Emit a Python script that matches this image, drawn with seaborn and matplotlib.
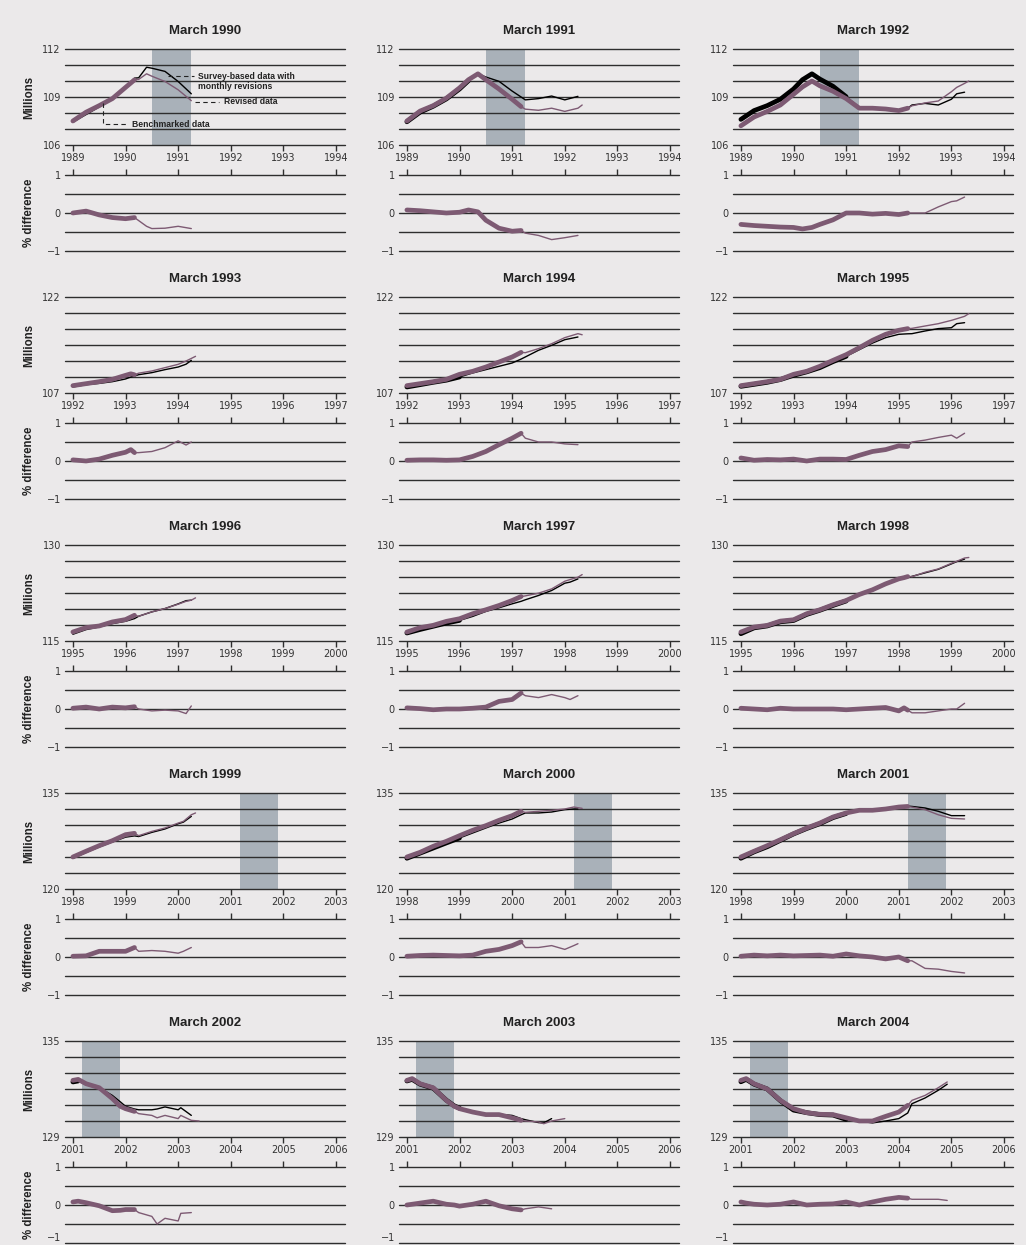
import numpy as np
import matplotlib
matplotlib.use("Agg")
import matplotlib.pyplot as plt
import seaborn as sns

# ---- data (fractional years, millions, % difference) ----
nan = np.nan

t_1990 = [1989.0, 1989.25, 1989.5, 1989.75, 1990.0, 1990.17, 1990.25, 1990.4, 1990.5, 1990.75, 1991.0, 1991.25]
survey_1990 = [107.43, 107.9, 108.38, 108.87, 109.6, 110.18, 110.2, 110.86, 110.8, 110.6, 109.97, 109.2]
revised_1990 = [107.5, 108.05, 108.46, 108.9, 109.6, 110.07, 110.1, 110.45, 110.3, 109.97, 109.45, 108.77]
diff_1990 = [0.0, 0.05, -0.05, -0.12, -0.15, -0.12, -0.2, -0.35, -0.41, -0.4, -0.35, -0.41]

t_1991 = [1989.0, 1989.25, 1989.5, 1989.75, 1990.0, 1990.17, 1990.35, 1990.5, 1990.75, 1991.0, 1991.17,
          1991.25, 1991.5, 1991.75, 1992.0, 1992.25, 1992.33]
survey_1991 = [107.45, 108.05, 108.42, 108.88, 109.5, 110.02, 110.45, 110.25, 109.98, 109.37, 109.0,
               108.82, 108.9, 109.06, 108.82, 109.04, nan]
revised_1991 = [107.5, 108.12, 108.46, 108.93, 109.57, 110.08, 110.45, 110.08, 109.5, 108.86, 108.4,
                108.24, 108.17, 108.3, 108.1, 108.3, 108.5]
diff_1991 = [0.08, 0.06, 0.03, 0.0, 0.02, 0.08, 0.03, -0.19, -0.4, -0.48, -0.46,
             -0.53, -0.59, -0.7, -0.65, -0.59, nan]

t_1992 = [1989.0, 1989.25, 1989.5, 1989.75, 1990.0, 1990.17, 1990.35, 1990.5, 1990.75, 1991.0, 1991.25,
          1991.5, 1991.75, 1992.0, 1992.17, 1992.25, 1992.5, 1992.75, 1993.0, 1993.1, 1993.25, 1993.33]
survey_1992 = [107.6, 108.15, 108.46, 108.86, 109.5, 110.08, 110.45, 110.12, 109.67, 109.02, 108.35,
               108.31, 108.25, 108.15, 108.3, 108.5, 108.6, 108.5, 108.86, 109.2, 109.3, nan]
revised_1992 = [107.2, 107.75, 108.1, 108.5, 109.17, 109.63, 110.0, 109.7, 109.36, 108.9, 108.3,
                108.3, 108.25, 108.15, 108.3, 108.45, 108.63, 108.75, 109.33, 109.6, 109.85, 110.0]
diff_1992 = [-0.3, -0.33, -0.35, -0.37, -0.38, -0.42, -0.38, -0.3, -0.18, 0.0, 0.0,
             -0.03, -0.01, -0.04, 0.0, 0.0, 0.0, 0.16, 0.3, 0.32, 0.42, nan]

t_1993 = [1992.0, 1992.25, 1992.5, 1992.75, 1993.0, 1993.1, 1993.17, 1993.25, 1993.5, 1993.75, 1994.0,
          1994.15, 1994.25, 1994.33]
survey_1993 = [107.94, 108.3, 108.5, 108.77, 109.19, 109.5, 109.66, 109.86, 110.18, 110.65, 111.06,
               111.5, 112.1, nan]
revised_1993 = [108.15, 108.46, 108.77, 109.13, 109.76, 110.0, 109.85, 110.1, 110.44, 110.96, 111.48,
                112.0, 112.4, 112.73]
diff_1993 = [0.03, 0.0, 0.05, 0.15, 0.23, 0.3, 0.22, 0.22, 0.25, 0.35, 0.53, 0.42, 0.5, nan]

t_1994 = [1992.0, 1992.25, 1992.5, 1992.75, 1993.0, 1993.25, 1993.5, 1993.75, 1994.0, 1994.17, 1994.25,
          1994.5, 1994.75, 1995.0, 1995.25, 1995.33]
survey_1994 = [107.94, 108.3, 108.67, 109.0, 109.5, 110.13, 110.65, 111.17, 111.69, 112.3, 112.63,
               113.67, 114.45, 115.33, 115.75, nan]
revised_1994 = [108.15, 108.46, 108.77, 109.13, 109.92, 110.39, 111.06, 111.84, 112.63, 113.35, 113.3,
                113.93, 114.7, 115.65, 116.27, 116.1]
diff_1994 = [0.02, 0.03, 0.03, 0.02, 0.03, 0.12, 0.25, 0.43, 0.6, 0.73, 0.6, 0.5, 0.5, 0.45, 0.43, nan]

t_1995 = [1992.0, 1992.25, 1992.5, 1992.75, 1993.0, 1993.25, 1993.5, 1993.75, 1994.0, 1994.25, 1994.5,
          1994.75, 1995.0, 1995.17, 1995.25, 1995.5, 1995.75, 1996.0, 1996.1, 1996.25, 1996.33]
survey_1995 = [108.04, 108.35, 108.67, 109.1, 109.76, 110.3, 110.96, 111.9, 112.73, 113.77, 114.8,
               115.65, 116.17, 116.25, 116.27, 116.69, 117.06, 117.2, 117.83, 117.99, nan]
revised_1995 = [108.15, 108.46, 108.77, 109.13, 109.92, 110.39, 111.17, 112.1, 112.99, 114.08, 115.23,
                116.17, 116.8, 117.06, 117.1, 117.47, 117.83, 118.35, 118.6, 118.98, 119.4]
diff_1995 = [0.08, 0.02, 0.04, 0.03, 0.05, 0.0, 0.05, 0.05, 0.04, 0.15, 0.25,
             0.3, 0.4, 0.38, 0.5, 0.55, 0.62, 0.68, 0.6, 0.73, nan]

t_1996 = [1995.0, 1995.25, 1995.5, 1995.75, 1996.0, 1996.17, 1996.25, 1996.5, 1996.75, 1997.0, 1997.15,
          1997.25, 1997.33]
survey_1996 = [116.05, 116.78, 117.2, 117.72, 118.08, 118.5, 118.87, 119.55, 120.07, 120.8, 121.3, 121.38, nan]
revised_1996 = [116.41, 117.09, 117.35, 117.98, 118.35, 119.02, 118.87, 119.55, 120.07, 120.75, 121.2,
                121.38, 121.74]
diff_1996 = [0.02, 0.05, 0.0, 0.05, 0.03, 0.06, 0.0, -0.05, -0.03, -0.05, -0.12, 0.08, nan]

t_1997 = [1995.0, 1995.25, 1995.5, 1995.75, 1996.0, 1996.25, 1996.5, 1996.75, 1997.0, 1997.17, 1997.25,
          1997.5, 1997.75, 1998.0, 1998.1, 1998.25, 1998.33]
survey_1997 = [116.25, 116.8, 117.3, 117.8, 118.22, 118.84, 119.62, 120.19, 120.81, 121.2, 121.44,
               122.11, 122.89, 124.03, 124.2, 124.7, nan]
revised_1997 = [116.4, 117.08, 117.45, 118.07, 118.48, 119.26, 119.88, 120.55, 121.33, 121.95, 122.05,
                122.47, 123.14, 124.34, 124.6, 124.97, 125.38]
diff_1997 = [0.03, 0.01, -0.02, 0.0, 0.0, 0.02, 0.05, 0.2, 0.25, 0.42, 0.35, 0.3, 0.38, 0.3, 0.25, 0.35, nan]

t_1998 = [1995.0, 1995.25, 1995.5, 1995.75, 1996.0, 1996.25, 1996.5, 1996.75, 1997.0, 1997.25, 1997.5,
          1997.75, 1998.0, 1998.1, 1998.17, 1998.25, 1998.5, 1998.75, 1999.0, 1999.1, 1999.25, 1999.33]
survey_1998 = [116.14, 117.05, 117.35, 118.0, 118.2, 119.15, 119.8, 120.55, 121.25, 122.15, 122.9,
               123.8, 124.6, 124.85, 124.95, 125.1, 125.65, 126.2, 127.05, 127.4, 127.8, nan]
revised_1998 = [116.4, 117.18, 117.44, 118.11, 118.32, 119.26, 119.88, 120.66, 121.33, 122.27, 123.0,
                123.93, 124.71, 124.9, 125.07, 125.05, 125.74, 126.26, 127.14, 127.45, 127.97, 128.05]
diff_1998 = [0.02, 0.0, -0.02, 0.02, 0.0, 0.0, 0.0, 0.0, -0.02, 0.0, 0.02,
             0.04, -0.05, 0.03, -0.03, -0.1, -0.1, -0.05, 0.0, 0.0, 0.15, nan]

t_1999 = [1998.0, 1998.25, 1998.5, 1998.75, 1999.0, 1999.17, 1999.25, 1999.5, 1999.75, 2000.0, 2000.1,
          2000.25, 2000.33]
survey_1999 = [124.8, 125.7, 126.56, 127.35, 128.1, 128.3, 128.2, 128.85, 129.38, 130.2, 130.45, 131.35, nan]
revised_1999 = [125.0, 125.9, 126.77, 127.55, 128.49, 128.7, 128.33, 129.0, 129.53, 130.3, 130.57,
                131.6, 131.88]
diff_1999 = [0.02, 0.03, 0.15, 0.15, 0.15, 0.25, 0.15, 0.17, 0.15, 0.1, 0.15, 0.25, nan]

t_2000 = [1998.0, 1998.25, 1998.5, 1998.75, 1999.0, 1999.25, 1999.5, 1999.75, 2000.0, 2000.17, 2000.25,
          2000.5, 2000.75, 2001.0, 2001.17, 2001.25, 2001.33]
survey_2000 = [124.8, 125.6, 126.4, 127.2, 127.97, 128.75, 129.53, 130.3, 130.94, 131.6, 131.88,
               131.88, 132.03, 132.4, 132.5, 132.5, nan]
revised_2000 = [125.0, 125.73, 126.67, 127.45, 128.33, 129.17, 129.9, 130.73, 131.46, 132.14, 131.98,
                132.14, 132.29, 132.5, 132.81, 132.7, 132.6]
diff_2000 = [0.02, 0.04, 0.05, 0.04, 0.03, 0.05, 0.15, 0.2, 0.3, 0.4, 0.25, 0.25, 0.3, 0.2, 0.3, 0.35, nan]

t_2001 = [1998.0, 1998.25, 1998.5, 1998.75, 1999.0, 1999.25, 1999.5, 1999.75, 2000.0, 2000.25, 2000.5,
          2000.75, 2001.0, 2001.17, 2001.25, 2001.5, 2001.75, 2002.0, 2002.25]
survey_2001 = [124.8, 125.8, 126.6, 127.6, 128.6, 129.45, 130.2, 131.15, 131.8, 132.3, 132.3,
               132.55, 132.8, 132.95, 132.9, 132.66, 132.14, 131.46, 131.46]
revised_2001 = [125.0, 125.9, 126.77, 127.7, 128.65, 129.53, 130.3, 131.25, 131.88, 132.3, 132.3,
                132.5, 132.81, 132.9, 132.8, 132.4, 131.6, 131.04, 130.94]
diff_2001 = [0.02, 0.05, 0.03, 0.05, 0.03, 0.04, 0.05, 0.02, 0.08, 0.03, 0.0,
             -0.05, 0.0, -0.1, -0.1, -0.3, -0.32, -0.38, -0.42]

t_2002 = [2001.0, 2001.1, 2001.25, 2001.5, 2001.75, 2001.9, 2002.0, 2002.17, 2002.25, 2002.5, 2002.6,
          2002.75, 2003.0, 2003.05, 2003.25, 2003.4]
survey_2002 = [132.44, 132.5, 132.29, 132.08, 131.6, 131.2, 130.92, 130.75, 130.7, 130.7, 130.75,
               130.88, 130.7, 130.83, 130.35, nan]
revised_2002 = [132.54, 132.6, 132.33, 132.08, 131.4, 130.92, 130.77, 130.6, 130.46, 130.35, 130.2,
                130.35, 130.15, 130.35, 130.04, 130.0]
diff_2002 = [0.08, 0.1, 0.06, -0.02, -0.15, -0.14, -0.12, -0.12, -0.2, -0.3, -0.5,
             -0.35, -0.42, -0.22, -0.2, nan]

t_2003 = [2001.0, 2001.1, 2001.25, 2001.5, 2001.75, 2001.9, 2002.0, 2002.25, 2002.5, 2002.75, 2003.0,
          2003.17, 2003.25, 2003.5, 2003.6, 2003.75, 2004.0]
survey_2003 = [132.5, 132.6, 132.3, 132.05, 131.3, 130.95, 130.8, 130.55, 130.4, 130.42, 130.35,
               130.15, 130.08, 129.9, 129.88, 130.15, nan]
revised_2003 = [132.54, 132.65, 132.33, 132.08, 131.29, 130.92, 130.77, 130.56, 130.4, 130.4, 130.2,
                130.04, 130.0, 129.94, 129.83, 130.0, 130.15]
diff_2003 = [0.0, 0.02, 0.05, 0.1, 0.02, 0.0, -0.03, 0.02, 0.1, -0.02, -0.1,
             -0.13, -0.1, -0.05, -0.07, -0.1, nan]

t_2004 = [2001.0, 2001.1, 2001.25, 2001.5, 2001.75, 2002.0, 2002.25, 2002.5, 2002.75, 2003.0, 2003.25,
          2003.5, 2003.75, 2004.0, 2004.17, 2004.25, 2004.5, 2004.75, 2004.92]
survey_2004 = [132.45, 132.6, 132.3, 132.0, 131.27, 130.68, 130.52, 130.4, 130.37, 130.1, 130.0,
               129.88, 130.0, 130.15, 130.5, 131.08, 131.44, 131.92, 132.3]
revised_2004 = [132.54, 132.65, 132.33, 132.0, 131.29, 130.77, 130.52, 130.42, 130.4, 130.2, 130.0,
                130.0, 130.29, 130.56, 130.98, 131.29, 131.6, 132.08, 132.44]
diff_2004 = [0.08, 0.05, 0.02, 0.0, 0.02, 0.08, 0.0, 0.02, 0.03, 0.08, 0.0,
             0.08, 0.15, 0.2, 0.18, 0.15, 0.15, 0.15, 0.12]

# recessions (shaded)
recession_start = [1990.5, 2001.17]
recession_end = [1991.25, 2001.9]

# rows of the grid: first year on the axis, y range and labelled values
row_first_year = [1989, 1992, 1995, 1998, 2001]
row_ymin = [106, 107, 115, 120, 129]
row_ymax = [112, 122, 130, 135, 135]
row_labels = [[106, 109, 112], [107, 122], [115, 130], [120, 135], [129, 135]]

panel_years = [[1990, 1991, 1992], [1993, 1994, 1995], [1996, 1997, 1998],
               [1999, 2000, 2001], [2002, 2003, 2004]]

panels = {
    1990: (t_1990, survey_1990, revised_1990, diff_1990),
    1991: (t_1991, survey_1991, revised_1991, diff_1991),
    1992: (t_1992, survey_1992, revised_1992, diff_1992),
    1993: (t_1993, survey_1993, revised_1993, diff_1993),
    1994: (t_1994, survey_1994, revised_1994, diff_1994),
    1995: (t_1995, survey_1995, revised_1995, diff_1995),
    1996: (t_1996, survey_1996, revised_1996, diff_1996),
    1997: (t_1997, survey_1997, revised_1997, diff_1997),
    1998: (t_1998, survey_1998, revised_1998, diff_1998),
    1999: (t_1999, survey_1999, revised_1999, diff_1999),
    2000: (t_2000, survey_2000, revised_2000, diff_2000),
    2001: (t_2001, survey_2001, revised_2001, diff_2001),
    2002: (t_2002, survey_2002, revised_2002, diff_2002),
    2003: (t_2003, survey_2003, revised_2003, diff_2003),
    2004: (t_2004, survey_2004, revised_2004, diff_2004),
}

# ---- style ----
BG = "#ebe9ea"
PURPLE = "#7d5a73"
SHADE = "#a9b1b9"
GRID = "#2e2e2e"
TXT = "#222222"
THICK = 3.4
THIN = 1.0
BOLD = ["Liberation Sans", "DejaVu Sans"]

sns.set_theme(style="white", rc={"axes.facecolor": BG, "figure.facecolor": BG})
plt.rcParams["font.family"] = ["DejaVu Sans"]
plt.rcParams["axes.unicode_minus"] = True

W, H = 1026, 1245
fig = plt.figure(figsize=(W / 100, H / 100), dpi=100, facecolor=BG)

col_left = [65, 399, 733]
row_top = [49, 297, 545, 793, 1041]
ax_w, top_h, diff_gap, diff_h = 280, 96, 126, 76


def px_axes(left, top, w, h):
    return fig.add_axes([left / W, 1 - (top + h) / H, w / W, h / H])


def split(t, bench):
    # thick part up to the benchmark month, thin part after it
    t = np.asarray(t)
    k = int(np.searchsorted(t, bench + 1e-6))
    if k == 0:
        return slice(0, 0), slice(0, None)
    return slice(0, k), slice(k - 1, None)


def draw(ax, t, y, bench, color, z):
    t = np.asarray(t, dtype=float)
    y = np.asarray(y, dtype=float)
    thick, thin = split(t, bench)
    for sl, lw in ((thin, THIN), (thick, THICK)):
        tt, yy = t[sl], y[sl]
        ok = ~np.isnan(yy)
        if ok.sum() < 2:
            continue
        sns.lineplot(x=tt[ok], y=yy[ok], ax=ax, color=color, linewidth=lw,
                     estimator=None, sort=False, zorder=z + (0.5 if lw == THICK else 0),
                     solid_capstyle="round", solid_joinstyle="round")


def style_common(ax, x0):
    for s in ax.spines.values():
        s.set_visible(False)
    ax.set_xlim(x0 - 0.15, x0 + 5.17)
    ax.set_xlabel("")
    ax.set_ylabel("")
    ax.set_xticks(range(x0, x0 + 6))
    ax.tick_params(axis="y", length=0, pad=3, labelsize=7, labelcolor="#333333")


for r in range(5):
    x0 = row_first_year[r]
    ymin, ymax = row_ymin[r], row_ymax[r]
    for c in range(3):
        year = panel_years[r][c]
        t, survey, revised, diff = panels[year]
        left, top = col_left[c], row_top[r]

        # ---- level panel ----
        ax = px_axes(left, top, ax_w, top_h)
        ax.set_ylim(ymin, ymax)
        for a, b in zip(recession_start, recession_end):
            ax.axvspan(a, b, color=SHADE, lw=0, zorder=0)
        for v in np.linspace(ymin, ymax, 7):
            ax.axhline(v, color=GRID, lw=1.0, zorder=1, clip_on=False)
        draw(ax, t, survey, year - 1 + 0.17, "black", 2)
        draw(ax, t, revised, year + 0.17, PURPLE, 3)
        style_common(ax, x0)
        ax.set_yticks(row_labels[r])
        ax.set_yticklabels([str(v) for v in row_labels[r]])
        ax.tick_params(axis="x", bottom=True, direction="out", length=4, width=1.0,
                       color=GRID, pad=2, labelsize=7, labelcolor="#333333")
        ax.text(0.5, 1 + 18 / top_h, f"March {year}", transform=ax.transAxes,
                ha="center", va="center", fontsize=9.5, fontweight="bold",
                family=BOLD, color=TXT)

        # ---- % difference panel ----
        axd = px_axes(left, top + diff_gap, ax_w, diff_h)
        axd.set_ylim(-1, 1)
        for v in [-1, -0.5, 0, 0.5, 1]:
            axd.axhline(v, color=GRID, lw=1.0, zorder=1, clip_on=False)
        draw(axd, t, diff, year + 0.17, PURPLE, 3)
        style_common(axd, x0)
        axd.set_yticks([-1, 0, 1])
        axd.set_yticklabels(["\u22121", "0", "1"])
        axd.tick_params(axis="x", bottom=False, top=True, labelbottom=False, labeltop=False,
                        direction="out", length=4, width=1.0, color=GRID)
        if r == 4:
            # bottom edge of the page: keep the -1 label above its line
            axd.get_yticklabels()[0].set_verticalalignment("bottom")

        if c == 0:
            fig.text(29 / W, 1 - (top + top_h / 2) / H, "Millions", rotation=90,
                     ha="center", va="center", fontsize=8.3, fontweight="bold",
                     family=BOLD, color=TXT)
            fig.text(29 / W, 1 - (top + diff_gap + diff_h / 2) / H, "% difference",
                     rotation=90, ha="center", va="center", fontsize=8.3,
                     fontweight="bold", family=BOLD, color=TXT)

        # annotations on the first panel
        if year == 1990:
            dash = dict(color="#222222", lw=0.8, ls=(0, (4, 3)), zorder=5, clip_on=False)
            note = dict(ha="left", va="center", fontsize=6.2, fontweight="bold",
                        family=BOLD, color=TXT)
            ax.plot([1990.8, 1991.3], [110.31, 110.31], **dash)
            ax.text(1991.37, 110.31, "Survey-based data with", **note)
            ax.text(1991.37, 109.63, "monthly revisions", **note)
            ax.plot([1991.32, 1991.78], [108.7, 108.7], **dash)
            ax.text(1991.87, 108.7, "Revised data", **note)
            ax.plot([1989.575, 1989.575, 1990.05], [108.65, 107.3, 107.3], **dash)
            ax.text(1990.12, 107.3, "Benchmarked data", **note)

fig.savefig("out.png", dpi=100, facecolor=BG)
